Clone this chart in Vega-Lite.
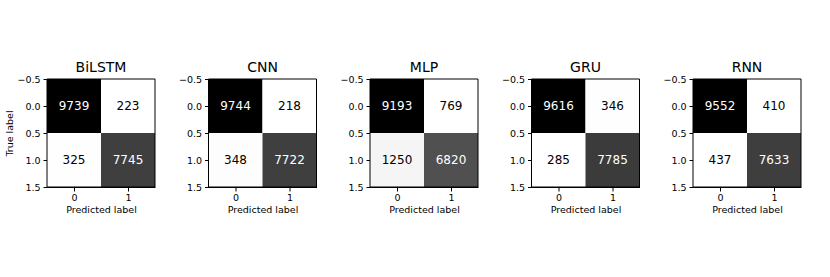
{
  "$schema": "https://vega.github.io/schema/vega-lite/v6.json",
  "background": "white",
  "padding": {"left": 4, "top": 61, "right": 0, "bottom": 0},
  "data": {"values": [
    {"model": "BiLSTM", "true": 0, "pred": 0, "count": 9739},
    {"model": "BiLSTM", "true": 0, "pred": 1, "count": 223},
    {"model": "BiLSTM", "true": 1, "pred": 0, "count": 325},
    {"model": "BiLSTM", "true": 1, "pred": 1, "count": 7745},
    {"model": "CNN", "true": 0, "pred": 0, "count": 9744},
    {"model": "CNN", "true": 0, "pred": 1, "count": 218},
    {"model": "CNN", "true": 1, "pred": 0, "count": 348},
    {"model": "CNN", "true": 1, "pred": 1, "count": 7722},
    {"model": "MLP", "true": 0, "pred": 0, "count": 9193},
    {"model": "MLP", "true": 0, "pred": 1, "count": 769},
    {"model": "MLP", "true": 1, "pred": 0, "count": 1250},
    {"model": "MLP", "true": 1, "pred": 1, "count": 6820},
    {"model": "GRU", "true": 0, "pred": 0, "count": 9616},
    {"model": "GRU", "true": 0, "pred": 1, "count": 346},
    {"model": "GRU", "true": 1, "pred": 0, "count": 285},
    {"model": "GRU", "true": 1, "pred": 1, "count": 7785},
    {"model": "RNN", "true": 0, "pred": 0, "count": 9552},
    {"model": "RNN", "true": 0, "pred": 1, "count": 410},
    {"model": "RNN", "true": 1, "pred": 0, "count": 437},
    {"model": "RNN", "true": 1, "pred": 1, "count": 7633}
  ]},
  "spacing": 53.5,
  "bounds": "flush",
  "resolve": {"scale": {"color": "independent"}},
  "hconcat": [
    {
      "title": "BiLSTM", "width": 108, "height": 108,
      "transform": [{"filter": "datum.model === 'BiLSTM'"}, {"joinaggregate": [{"op": "max", "field": "count", "as": "mx"}]}],
      "resolve": {"scale": {"x": "independent", "y": "independent"}},
      "layer": [
        {"mark": {"type": "rect"}, "encoding": {
          "x": {"field": "pred", "type": "ordinal", "scale": {"paddingInner": 0, "paddingOuter": 0}, "axis": null},
          "y": {"field": "true", "type": "ordinal", "scale": {"paddingInner": 0, "paddingOuter": 0}, "axis": null},
          "color": {"field": "count", "type": "quantitative", "scale": {"type": "pow", "exponent": 1.33, "zero": false, "nice": false, "range": ["#ffffff", "#000000"]}, "legend": null}}},
        {"mark": {"type": "text", "font": "DejaVu Sans", "fontSize": 12}, "encoding": {
          "x": {"field": "pred", "type": "quantitative", "scale": {"domain": [-0.5, 1.5], "nice": false, "zero": false}, "axis": {"values": [0, 1], "format": "d", "title": "Predicted label", "labelPadding": 1}},
          "y": {"field": "true", "type": "quantitative", "scale": {"domain": [-0.5, 1.5], "nice": false, "zero": false, "reverse": true}, "axis": {"values": [-0.5, 0, 0.5, 1, 1.5], "format": ".1f", "title": "True label", "titlePadding": 2}},
          "text": {"field": "count"},
          "color": {"condition": {"test": "datum.count > datum.mx / 2", "value": "white"}, "value": "black"}}},
        {"transform": [{"filter": "datum.pred === 0 && datum.true === 0"}],
         "mark": {"type": "rect", "fill": null, "stroke": "black", "strokeWidth": 1}, "encoding": {
          "x": {"datum": -0.5, "type": "quantitative", "scale": {"domain": [-0.5, 1.5], "nice": false, "zero": false}, "axis": null},
          "x2": {"datum": 1.5},
          "y": {"datum": -0.5, "type": "quantitative", "scale": {"domain": [-0.5, 1.5], "nice": false, "zero": false, "reverse": true}, "axis": null},
          "y2": {"datum": 1.5}}}
      ]
    },
    {
      "title": "CNN", "width": 108, "height": 108,
      "transform": [{"filter": "datum.model === 'CNN'"}, {"joinaggregate": [{"op": "max", "field": "count", "as": "mx"}]}],
      "resolve": {"scale": {"x": "independent", "y": "independent"}},
      "layer": [
        {"mark": {"type": "rect"}, "encoding": {
          "x": {"field": "pred", "type": "ordinal", "scale": {"paddingInner": 0, "paddingOuter": 0}, "axis": null},
          "y": {"field": "true", "type": "ordinal", "scale": {"paddingInner": 0, "paddingOuter": 0}, "axis": null},
          "color": {"field": "count", "type": "quantitative", "scale": {"type": "pow", "exponent": 1.33, "zero": false, "nice": false, "range": ["#ffffff", "#000000"]}, "legend": null}}},
        {"mark": {"type": "text", "font": "DejaVu Sans", "fontSize": 12}, "encoding": {
          "x": {"field": "pred", "type": "quantitative", "scale": {"domain": [-0.5, 1.5], "nice": false, "zero": false}, "axis": {"values": [0, 1], "format": "d", "title": "Predicted label", "labelPadding": 1}},
          "y": {"field": "true", "type": "quantitative", "scale": {"domain": [-0.5, 1.5], "nice": false, "zero": false, "reverse": true}, "axis": {"values": [-0.5, 0, 0.5, 1, 1.5], "format": ".1f", "title": null}},
          "text": {"field": "count"},
          "color": {"condition": {"test": "datum.count > datum.mx / 2", "value": "white"}, "value": "black"}}},
        {"transform": [{"filter": "datum.pred === 0 && datum.true === 0"}],
         "mark": {"type": "rect", "fill": null, "stroke": "black", "strokeWidth": 1}, "encoding": {
          "x": {"datum": -0.5, "type": "quantitative", "scale": {"domain": [-0.5, 1.5], "nice": false, "zero": false}, "axis": null},
          "x2": {"datum": 1.5},
          "y": {"datum": -0.5, "type": "quantitative", "scale": {"domain": [-0.5, 1.5], "nice": false, "zero": false, "reverse": true}, "axis": null},
          "y2": {"datum": 1.5}}}
      ]
    },
    {
      "title": "MLP", "width": 108, "height": 108,
      "transform": [{"filter": "datum.model === 'MLP'"}, {"joinaggregate": [{"op": "max", "field": "count", "as": "mx"}]}],
      "resolve": {"scale": {"x": "independent", "y": "independent"}},
      "layer": [
        {"mark": {"type": "rect"}, "encoding": {
          "x": {"field": "pred", "type": "ordinal", "scale": {"paddingInner": 0, "paddingOuter": 0}, "axis": null},
          "y": {"field": "true", "type": "ordinal", "scale": {"paddingInner": 0, "paddingOuter": 0}, "axis": null},
          "color": {"field": "count", "type": "quantitative", "scale": {"type": "pow", "exponent": 1.33, "zero": false, "nice": false, "range": ["#ffffff", "#000000"]}, "legend": null}}},
        {"mark": {"type": "text", "font": "DejaVu Sans", "fontSize": 12}, "encoding": {
          "x": {"field": "pred", "type": "quantitative", "scale": {"domain": [-0.5, 1.5], "nice": false, "zero": false}, "axis": {"values": [0, 1], "format": "d", "title": "Predicted label", "labelPadding": 1}},
          "y": {"field": "true", "type": "quantitative", "scale": {"domain": [-0.5, 1.5], "nice": false, "zero": false, "reverse": true}, "axis": {"values": [-0.5, 0, 0.5, 1, 1.5], "format": ".1f", "title": null}},
          "text": {"field": "count"},
          "color": {"condition": {"test": "datum.count > datum.mx / 2", "value": "white"}, "value": "black"}}},
        {"transform": [{"filter": "datum.pred === 0 && datum.true === 0"}],
         "mark": {"type": "rect", "fill": null, "stroke": "black", "strokeWidth": 1}, "encoding": {
          "x": {"datum": -0.5, "type": "quantitative", "scale": {"domain": [-0.5, 1.5], "nice": false, "zero": false}, "axis": null},
          "x2": {"datum": 1.5},
          "y": {"datum": -0.5, "type": "quantitative", "scale": {"domain": [-0.5, 1.5], "nice": false, "zero": false, "reverse": true}, "axis": null},
          "y2": {"datum": 1.5}}}
      ]
    },
    {
      "title": "GRU", "width": 108, "height": 108,
      "transform": [{"filter": "datum.model === 'GRU'"}, {"joinaggregate": [{"op": "max", "field": "count", "as": "mx"}]}],
      "resolve": {"scale": {"x": "independent", "y": "independent"}},
      "layer": [
        {"mark": {"type": "rect"}, "encoding": {
          "x": {"field": "pred", "type": "ordinal", "scale": {"paddingInner": 0, "paddingOuter": 0}, "axis": null},
          "y": {"field": "true", "type": "ordinal", "scale": {"paddingInner": 0, "paddingOuter": 0}, "axis": null},
          "color": {"field": "count", "type": "quantitative", "scale": {"type": "pow", "exponent": 1.33, "zero": false, "nice": false, "range": ["#ffffff", "#000000"]}, "legend": null}}},
        {"mark": {"type": "text", "font": "DejaVu Sans", "fontSize": 12}, "encoding": {
          "x": {"field": "pred", "type": "quantitative", "scale": {"domain": [-0.5, 1.5], "nice": false, "zero": false}, "axis": {"values": [0, 1], "format": "d", "title": "Predicted label", "labelPadding": 1}},
          "y": {"field": "true", "type": "quantitative", "scale": {"domain": [-0.5, 1.5], "nice": false, "zero": false, "reverse": true}, "axis": {"values": [-0.5, 0, 0.5, 1, 1.5], "format": ".1f", "title": null}},
          "text": {"field": "count"},
          "color": {"condition": {"test": "datum.count > datum.mx / 2", "value": "white"}, "value": "black"}}},
        {"transform": [{"filter": "datum.pred === 0 && datum.true === 0"}],
         "mark": {"type": "rect", "fill": null, "stroke": "black", "strokeWidth": 1}, "encoding": {
          "x": {"datum": -0.5, "type": "quantitative", "scale": {"domain": [-0.5, 1.5], "nice": false, "zero": false}, "axis": null},
          "x2": {"datum": 1.5},
          "y": {"datum": -0.5, "type": "quantitative", "scale": {"domain": [-0.5, 1.5], "nice": false, "zero": false, "reverse": true}, "axis": null},
          "y2": {"datum": 1.5}}}
      ]
    },
    {
      "title": "RNN", "width": 108, "height": 108,
      "transform": [{"filter": "datum.model === 'RNN'"}, {"joinaggregate": [{"op": "max", "field": "count", "as": "mx"}]}],
      "resolve": {"scale": {"x": "independent", "y": "independent"}},
      "layer": [
        {"mark": {"type": "rect"}, "encoding": {
          "x": {"field": "pred", "type": "ordinal", "scale": {"paddingInner": 0, "paddingOuter": 0}, "axis": null},
          "y": {"field": "true", "type": "ordinal", "scale": {"paddingInner": 0, "paddingOuter": 0}, "axis": null},
          "color": {"field": "count", "type": "quantitative", "scale": {"type": "pow", "exponent": 1.33, "zero": false, "nice": false, "range": ["#ffffff", "#000000"]}, "legend": null}}},
        {"mark": {"type": "text", "font": "DejaVu Sans", "fontSize": 12}, "encoding": {
          "x": {"field": "pred", "type": "quantitative", "scale": {"domain": [-0.5, 1.5], "nice": false, "zero": false}, "axis": {"values": [0, 1], "format": "d", "title": "Predicted label", "labelPadding": 1}},
          "y": {"field": "true", "type": "quantitative", "scale": {"domain": [-0.5, 1.5], "nice": false, "zero": false, "reverse": true}, "axis": {"values": [-0.5, 0, 0.5, 1, 1.5], "format": ".1f", "title": null}},
          "text": {"field": "count"},
          "color": {"condition": {"test": "datum.count > datum.mx / 2", "value": "white"}, "value": "black"}}},
        {"transform": [{"filter": "datum.pred === 0 && datum.true === 0"}],
         "mark": {"type": "rect", "fill": null, "stroke": "black", "strokeWidth": 1}, "encoding": {
          "x": {"datum": -0.5, "type": "quantitative", "scale": {"domain": [-0.5, 1.5], "nice": false, "zero": false}, "axis": null},
          "x2": {"datum": 1.5},
          "y": {"datum": -0.5, "type": "quantitative", "scale": {"domain": [-0.5, 1.5], "nice": false, "zero": false, "reverse": true}, "axis": null},
          "y2": {"datum": 1.5}}}
      ]
    }
  ],
  "config": {
    "view": {"stroke": null},
    "axis": {
      "grid": false,
      "labelFont": "DejaVu Sans", "labelFontSize": 9.5, "labelColor": "black",
      "titleFont": "DejaVu Sans", "titleFontSize": 9.5, "titleFontWeight": "normal", "titleColor": "black",
      "domainColor": "black", "tickColor": "black", "tickSize": 4, "labelPadding": 3, "titlePadding": 3
    },
    "title": {"font": "DejaVu Sans", "fontSize": 14, "fontWeight": "normal", "color": "black", "offset": -1}
  }
}
